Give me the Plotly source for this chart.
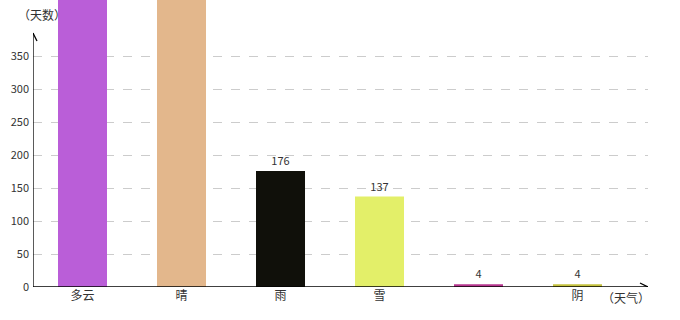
import plotly.graph_objects as go

categories = ["多云", "晴", "雨", "雪", " ", "阴"]
days = [520, 480, 176, 137, 4, 4]
colors = ["#BA5ED8", "#E3B78C", "#10100A", "#E3EF69", "#B7368F", "#C5C23E"]
ytick_vals = [0, 50, 100, 150, 200, 250, 300, 350]

Y_MAX = 435
X_MAX = 5.712
FONT = "Noto Sans CJK SC, DejaVu Sans, sans-serif"

fig = go.Figure()
fig.add_trace(go.Bar(
    x=list(range(len(categories))),
    y=days,
    marker=dict(color=colors, line=dict(width=0)),
    text=[str(v) if v < Y_MAX else "" for v in days],
    textposition="outside",
    textfont=dict(size=11, color="#333333", family=FONT),
    cliponaxis=True,
    hoverinfo="skip",
))

line_style = dict(color="#000000", width=1.3)
# axis lines
fig.add_shape(type="line", xref="x", yref="y", x0=-0.5, x1=-0.5, y0=0, y1=385, line=line_style, layer="above")
fig.add_shape(type="line", xref="x", yref="y", x0=-0.5, x1=X_MAX, y0=0, y1=0, line=line_style, layer="above")
# arrow heads (pixel-sized)
for dx in (-4, 4):
    fig.add_shape(type="line", xref="x", yref="y", xsizemode="pixel", ysizemode="pixel",
                  xanchor=-0.5, yanchor=385, x0=dx, x1=0, y0=-8, y1=0, line=line_style)
for dy in (-4, 4):
    fig.add_shape(type="line", xref="x", yref="y", xsizemode="pixel", ysizemode="pixel",
                  xanchor=X_MAX, yanchor=0, x0=-8, x1=0, y0=dy, y1=0, line=line_style)

fig.add_annotation(text="（天数）", xref="paper", yref="paper", x=0.0146, y=0.948,
                   xanchor="center", yanchor="middle", showarrow=False,
                   font=dict(size=12, color="#333333", family=FONT))
fig.add_annotation(text="（天气）", xref="paper", yref="paper", x=0.964, y=-0.038,
                   xanchor="center", yanchor="middle", showarrow=False,
                   font=dict(size=12, color="#333333", family=FONT))

fig.update_layout(
    width=680, height=320,
    margin=dict(l=33, r=32, t=0, b=33),
    plot_bgcolor="white", paper_bgcolor="white",
    showlegend=False,
    bargap=0.505,
    font=dict(family=FONT, size=11, color="#333333"),
    xaxis=dict(range=[-0.5, X_MAX], tickvals=list(range(len(categories))), ticktext=categories,
               showgrid=False, zeroline=False, showline=False, ticks="",
               tickfont=dict(size=12, color="#333333", family=FONT), fixedrange=True),
    yaxis=dict(range=[0, Y_MAX], tickvals=ytick_vals, showgrid=True, gridcolor="#CCCCCC",
               griddash="dash", gridwidth=1, zeroline=False, showline=False, ticks="",
               ticklabelstandoff=3,
               tickfont=dict(size=11, color="#333333", family=FONT), fixedrange=True),
)

fig.write_html("out.html")
